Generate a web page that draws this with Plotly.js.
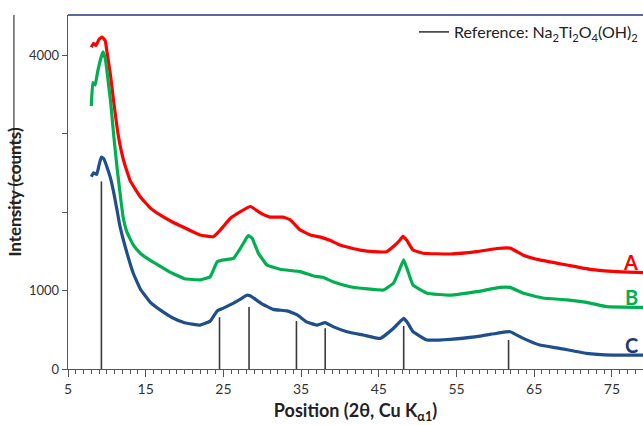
<!DOCTYPE html>
<html>
<head>
<meta charset="utf-8">
<script src="https://cdn.plot.ly/plotly-3.0.1.min.js"></script>
<style>html,body{margin:0;padding:0;background:#fff}#chart{width:643px;height:425px}</style>
</head>
<body>
<div id="chart"></div>
<script>
// Sample A (red)
const aX = [8.0, 8.3, 8.6, 9.0, 9.4, 9.8, 10.0, 10.5, 10.9, 11.5, 12.2, 13.0, 14.3, 15.6, 16.9, 18.5, 20.0, 22.0, 23.7, 24.6, 25.9, 27.2, 28.5, 29.8, 31.0, 32.7, 33.6, 34.9, 36.2, 37.5, 38.7, 40.0, 41.3, 42.6, 44.3, 46.0, 47.1, 47.7, 48.1, 48.6, 49.4, 50.7, 54.2, 57.6, 60.2, 61.9, 63.6, 65.7, 69.2, 72.2, 75.6, 79.0];
const aY = [4100, 4150, 4120, 4200, 4230, 4180, 4050, 3720, 3390, 2960, 2640, 2400, 2195, 2050, 1960, 1870, 1800, 1707, 1685, 1770, 1920, 2005, 2070, 1985, 1935, 1935, 1900, 1770, 1707, 1680, 1640, 1580, 1545, 1515, 1495, 1495, 1580, 1640, 1690, 1640, 1515, 1475, 1465, 1495, 1535, 1540, 1450, 1390, 1325, 1270, 1240, 1228];
// Sample B (green)
const bX = [8.0, 8.2, 8.5, 8.8, 9.2, 9.5, 9.8, 10.0, 10.5, 10.9, 11.3, 11.7, 12.1, 12.6, 13.4, 14.3, 15.5, 16.5, 18.0, 20.0, 22.0, 23.3, 24.2, 25.0, 26.3, 27.2, 27.8, 28.2, 28.7, 29.5, 30.6, 32.3, 34.9, 36.6, 37.8, 39.1, 41.3, 43.5, 45.6, 46.9, 47.6, 48.2, 48.7, 49.4, 51.2, 54.2, 57.6, 60.6, 61.9, 63.6, 66.1, 69.2, 72.2, 74.3, 79.0];
const bY = [3350, 3650, 3620, 3780, 3950, 4040, 3950, 3810, 3390, 2960, 2577, 2240, 1930, 1740, 1580, 1475, 1390, 1330, 1240, 1150, 1135, 1175, 1367, 1390, 1410, 1540, 1640, 1700, 1665, 1475, 1325, 1270, 1240, 1185, 1168, 1112, 1048, 1020, 1006, 1095, 1250, 1390, 1260, 1070, 965, 940, 985, 1040, 1040, 965, 905, 880, 840, 795, 785];
// Sample C (blue)
const cX = [8.0, 8.3, 8.7, 9.0, 9.3, 9.6, 10.0, 10.5, 10.9, 11.3, 11.7, 12.6, 13.4, 14.3, 15.6, 16.9, 18.5, 20.0, 22.0, 23.3, 24.2, 25.0, 26.3, 27.2, 28.0, 28.5, 29.8, 31.4, 33.2, 34.5, 35.7, 37.0, 38.1, 39.1, 40.9, 43.0, 45.2, 46.9, 47.7, 48.2, 48.7, 49.4, 51.2, 54.2, 57.6, 60.2, 61.9, 63.6, 65.7, 68.3, 71.7, 75.1, 79.0];
const cY = [2450, 2500, 2480, 2600, 2700, 2680, 2577, 2420, 2240, 2030, 1813, 1475, 1220, 1020, 850, 750, 650, 590, 560, 610, 740, 775, 840, 890, 940, 930, 840, 760, 740, 690, 600, 560, 590, 540, 475, 433, 390, 520, 600, 645, 590, 475, 370, 378, 412, 455, 475, 390, 305, 263, 200, 178, 178];
// Reference pattern Na2Ti2O4(OH)2
const refPos = [9.3, 24.5, 28.3, 34.4, 38.1, 48.2, 61.7];
const refInt = [2390, 660, 790, 612, 520, 548, 370];
const seriesLabels = ['A', 'B', 'C'];
const yTickVals = [0, 1000, 2000, 3000, 4000];
const yTickText = ['0', '1000', '', '', '4000'];

const FONT = 'Lato, "Open Sans", sans-serif';
const colA = '#FF0000', colB = '#00B050', colC = '#1F4E8C';

const sx = [], sy = [];
refPos.forEach((p, i) => { sx.push(p, p, null); sy.push(0, refInt[i], null); });

const line = (x, y, c) => ({x, y, type: 'scatter', mode: 'lines', showlegend: false,
  line: {color: c, width: 3.2, shape: 'spline', smoothing: 0.3}, hoverinfo: 'skip'});

const data = [
  {x: sx, y: sy, type: 'scatter', mode: 'lines', name: 'Reference: Na<sub>2</sub>Ti<sub>2</sub>O<sub>4</sub>(OH)<sub>2</sub>',
   line: {color: '#3a3a3a', width: 1.6}, showlegend: true},
  line(aX, aY, colA), line(bX, bY, colB), line(cX, cY, colC)
];

const lastY = arr => arr[arr.length - 1];
const layout = {
  width: 643, height: 425,
  margin: {l: 68, r: 0, t: 15, b: 56},
  paper_bgcolor: '#fff', plot_bgcolor: '#fff',
  font: {family: FONT, color: '#404040', size: 13},
  showlegend: true,
  legend: {x: 1, xanchor: 'right', y: 1.0, yanchor: 'top', bgcolor: 'rgba(0,0,0,0)',
    font: {family: FONT, size: 16, color: '#222'}, itemwidth: 30, tracegroupgap: 0},
  xaxis: {range: [5, 79], tick0: 5, dtick: 10, ticks: 'outside', ticklen: 7, tickcolor: '#555',
    minor: {dtick: 1, ticks: 'outside', ticklen: 4, tickcolor: '#555', showgrid: false},
    showgrid: false, zeroline: false, showline: true, linecolor: '#555', linewidth: 1.3,
    tickfont: {family: FONT, size: 14, color: '#333'},
    title: {text: '<b>Position (2θ, Cu K<sub>α1</sub>)</b>', font: {family: FONT, size: 18, color: '#222'}, standoff: 8}},
  yaxis: {range: [0, 4510], tickvals: yTickVals, ticktext: yTickText, ticks: 'outside', ticklen: 5, tickcolor: '#555',
    showgrid: false, zeroline: false, showline: true, linecolor: '#555', linewidth: 1.3,
    tickfont: {family: FONT, size: 13, color: '#333'},
    title: {text: '<b>Intensity (counts)</b>', font: {family: FONT, size: 17, color: '#222'}, standoff: 3}},
  shapes: [
    {type: 'line', xref: 'paper', yref: 'paper', x0: 0, x1: 1, y0: 1, y1: 1, line: {color: '#1F3A80', width: 1.5}},
    {type: 'line', xref: 'paper', yref: 'paper', x0: -0.094, x1: -0.094, y0: 1, y1: 0.421, line: {color: '#111', width: 1}}
  ],
  annotations: [
    {xref: 'paper', x: 0.995, xanchor: 'right', yref: 'y', y: lastY(aY) + 130, yanchor: 'middle', text: '<b>' + seriesLabels[0] + '</b>', showarrow: false, font: {family: FONT, size: 20, color: colA}},
    {xref: 'paper', x: 0.995, xanchor: 'right', yref: 'y', y: lastY(bY) + 130, yanchor: 'middle', text: '<b>' + seriesLabels[1] + '</b>', showarrow: false, font: {family: FONT, size: 20, color: colB}},
    {xref: 'paper', x: 0.995, xanchor: 'right', yref: 'y', y: lastY(cY) + 130, yanchor: 'middle', text: '<b>' + seriesLabels[2] + '</b>', showarrow: false, font: {family: FONT, size: 20, color: '#1F3A70'}}
  ]
};
Plotly.newPlot('chart', data, layout, {displayModeBar: false, staticPlot: true});
</script>
</body>
</html>
